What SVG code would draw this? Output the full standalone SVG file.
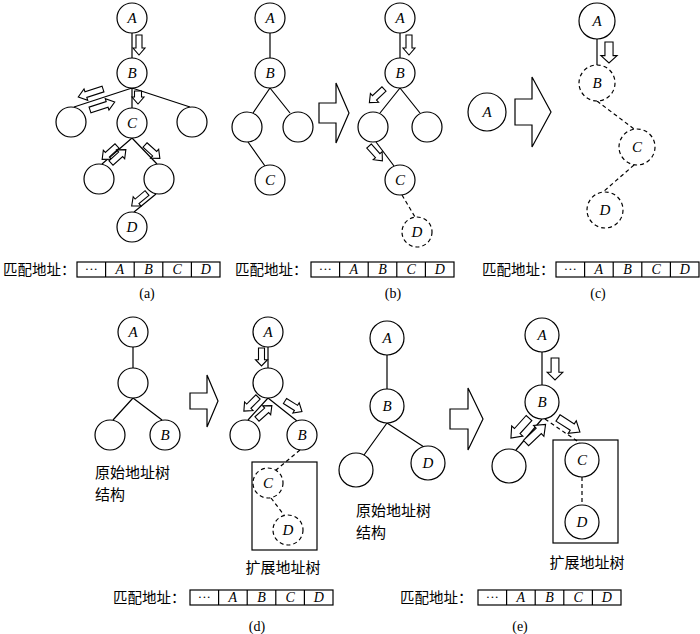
<svg xmlns="http://www.w3.org/2000/svg" xmlns:xlink="http://www.w3.org/1999/xlink" width="700" height="634" viewBox="0 0 700 634">
<style>
.n{fill:#fff;stroke:#000;stroke-width:1.2}
.nd{fill:#fff;stroke:#000;stroke-width:1.2;stroke-dasharray:4,3}
.ln{fill:none;stroke:#000;stroke-width:1.2}
.dl{fill:none;stroke:#000;stroke-width:1.2;stroke-dasharray:4,3}
.lb{font-family:"Liberation Serif",serif;font-style:italic;font-size:15px;text-anchor:middle}
.cl{font-family:"Liberation Serif",serif;font-style:italic;font-size:14px;text-anchor:middle}
.dots{font-family:"Liberation Serif",serif;font-size:13px;text-anchor:middle}
.cap{font-family:"Liberation Serif",serif;font-size:14px;text-anchor:middle}
.cn{font-family:"Noto Sans CJK SC",sans-serif;font-size:14.5px}
.cn16{font-family:"Noto Sans CJK SC",sans-serif;font-size:15px}
.box{fill:#fff;stroke:#000;stroke-width:1.2}
.big{fill:#fff;stroke:#000;stroke-width:1.2}
.arr polygon{fill:#fff;stroke:#000;stroke-width:1.1;vector-effect:non-scaling-stroke}
</style>
<defs>
<g id="ar" class="arr"><polygon points="0,-3 13,-3 13,-6 20,0 13,6 13,3 0,3"/></g>
<g id="arl" class="arr"><polygon points="0,-3 18,-3 18,-6 26,0 18,6 18,3 0,3"/></g>
<g id="ars" class="arr"><polygon points="0,-3.5 6,-3.5 6,-6 13,0 6,6 6,3.5 0,3.5"/></g>
</defs>

<!-- connectors -->
<g id="connectors">
<!-- (a) -->
<path class="ln" d="M132,33 V58 M132,88 L74,107 M132,88 V108 M132,88 L190,107 M132,138 L102,164 M132,138 L157,164 M156,194 L134,212"/>
<!-- (b) left -->
<path class="ln" d="M270,33 V58 M270,88 L253,113 M270,88 L290,113 M248,142 L265,166"/>
<!-- (b) right -->
<path class="ln" d="M400,33 V58 M400,88 L380,113 M400,88 L420,113 M376,142 L394,166"/>
<path class="dl" d="M402,195 L415,217"/>
<!-- (c) -->
<path class="ln" d="M597,39 V65"/>
<path class="dl" d="M597,101 L634,129 M634,165 L603,192"/>
<!-- (d) left -->
<path class="ln" d="M133,347 V368 M133,398 L113,420 M133,398 L162,420"/>
<!-- (d) right -->
<path class="ln" d="M268,347 V368 M268,398 L248,420 M268,398 L297,421"/>
<path class="dl" d="M300,450 L276,470 M271,498 L284,515"/>
<!-- (e) left -->
<path class="ln" d="M387,355 V389 M387,423 L364,455 M387,423 L424,447"/>
<!-- (e) right -->
<path class="ln" d="M542,352 V385 M542,419 L516,450"/>
<path class="dl" d="M545,419 L580,443 M582,477 V505"/>

<!-- flow arrows (a) -->
<use xlink:href="#ar" transform="translate(139,35) rotate(90)"/>
<use xlink:href="#arl" transform="translate(103,89) rotate(162)"/>
<use xlink:href="#arl" transform="translate(90,110) rotate(-18)"/>
<use xlink:href="#ars" transform="translate(138,91) rotate(90)"/>
<use xlink:href="#ar" transform="translate(117,146) rotate(138)"/>
<use xlink:href="#ar" transform="translate(111,163) rotate(-42)"/>
<use xlink:href="#ar" transform="translate(145,145) rotate(42)"/>
<use xlink:href="#ar" transform="translate(147,193) rotate(140)"/>
<!-- (b) -->
<use xlink:href="#ar" transform="translate(409,35) rotate(90)"/>
<use xlink:href="#ar" transform="translate(384,89) rotate(137)"/>
<use xlink:href="#ar" transform="translate(369,146) rotate(48)"/>
<!-- (c) -->
<use xlink:href="#ar" transform="translate(609,42) rotate(90) scale(1.05,1.35)"/>
<!-- (d) -->
<use xlink:href="#ar" transform="translate(261.5,348) rotate(90) scale(0.9,1)"/>
<use xlink:href="#ar" transform="translate(258,397) rotate(135)"/>
<use xlink:href="#ar" transform="translate(257,419) rotate(-42)"/>
<use xlink:href="#ar" transform="translate(285,401) rotate(32)"/>
<!-- (e) -->
<use xlink:href="#ar" transform="translate(555,358) rotate(90) scale(1.1,1.3)"/>
<use xlink:href="#ar" transform="translate(529,418) rotate(132) scale(1.35,1.25)"/>
<use xlink:href="#ar" transform="translate(526,443) rotate(-43.5) scale(1.35,1.25)"/>
<use xlink:href="#ar" transform="translate(558,418) rotate(32.5) scale(1.3,1.25)"/>

<!-- big transition arrows -->
<polygon class="big" points="319,103 336,103 336,83 349,113 336,143 336,123 319,123"/>
<polygon class="big" points="515,99 532,99 532,77 551,112 532,147 532,125 515,125"/>
<polygon class="big" points="190,393 207,393 207,375 218,401 207,427 207,409 190,409"/>
<polygon class="big" points="450,409 468,409 468,388 483,419 468,450 468,429 450,429"/>
</g>

<!-- (a) nodes -->
<g id="a-A"><circle class="n" cx="132" cy="18" r="15"/><text class="lb" x="132" y="23">A</text></g>
<g id="a-B"><circle class="n" cx="132" cy="73" r="15"/><text class="lb" x="132" y="78">B</text></g>
<g id="a-L"><circle class="n" cx="71" cy="122" r="15"/></g>
<g id="a-C"><circle class="n" cx="132" cy="123" r="15"/><text class="lb" x="132" y="128">C</text></g>
<g id="a-R"><circle class="n" cx="192" cy="122" r="15"/></g>
<g id="a-LL"><circle class="n" cx="99" cy="179" r="15"/></g>
<g id="a-LR"><circle class="n" cx="159" cy="179" r="15"/></g>
<g id="a-D"><circle class="n" cx="132" cy="227" r="15"/><text class="lb" x="132" y="232">D</text></g>

<!-- (b) nodes -->
<g id="b1-A"><circle class="n" cx="270" cy="18" r="15"/><text class="lb" x="270" y="23">A</text></g>
<g id="b1-B"><circle class="n" cx="270" cy="73" r="15"/><text class="lb" x="270" y="78">B</text></g>
<g id="b1-L"><circle class="n" cx="247" cy="127" r="15"/></g>
<g id="b1-R"><circle class="n" cx="298" cy="127" r="15"/></g>
<g id="b1-C"><circle class="n" cx="270" cy="180" r="15"/><text class="lb" x="270" y="185">C</text></g>
<g id="b2-A"><circle class="n" cx="400" cy="18" r="15"/><text class="lb" x="400" y="23">A</text></g>
<g id="b2-B"><circle class="n" cx="400" cy="73" r="15"/><text class="lb" x="400" y="78">B</text></g>
<g id="b2-L"><circle class="n" cx="373" cy="127" r="15"/></g>
<g id="b2-R"><circle class="n" cx="427" cy="127" r="15"/></g>
<g id="b2-C"><circle class="n" cx="400" cy="180" r="15"/><text class="lb" x="400" y="185">C</text></g>
<g id="b2-D"><circle class="nd" cx="417" cy="232" r="15"/><text class="lb" x="417" y="237">D</text></g>

<!-- (c) nodes -->
<g id="c1-A"><circle class="n" cx="487" cy="112" r="19"/><text class="lb" x="487" y="117">A</text></g>
<g id="c2-A"><circle class="n" cx="597" cy="21" r="18"/><text class="lb" x="597" y="26">A</text></g>
<g id="c2-B"><circle class="nd" cx="597" cy="83" r="18"/><text class="lb" x="597" y="88">B</text></g>
<g id="c2-C"><circle class="nd" cx="637" cy="147" r="18"/><text class="lb" x="637" y="152">C</text></g>
<g id="c2-D"><circle class="nd" cx="605" cy="210" r="18"/><text class="lb" x="605" y="215">D</text></g>

<!-- (d) nodes -->
<g id="d1-A"><circle class="n" cx="133" cy="332" r="15"/><text class="lb" x="133" y="337">A</text></g>
<g id="d1-M"><circle class="n" cx="133" cy="383" r="15"/></g>
<g id="d1-L"><circle class="n" cx="110" cy="435" r="15"/></g>
<g id="d1-B"><circle class="n" cx="165" cy="435" r="15"/><text class="lb" x="165" y="440">B</text></g>
<g id="d2-A"><circle class="n" cx="268" cy="332" r="15"/><text class="lb" x="268" y="337">A</text></g>
<g id="d2-M"><circle class="n" cx="268" cy="383" r="15"/></g>
<g id="d2-L"><circle class="n" cx="245" cy="435" r="15"/></g>
<g id="d2-B"><circle class="n" cx="302" cy="435" r="15"/><text class="lb" x="302" y="440">B</text></g>
<g id="d2-box"><rect class="ln" x="252" y="462" width="65" height="88"/></g>
<g id="d2-C"><circle class="nd" cx="268" cy="483" r="15"/><text class="lb" x="268" y="488">C</text></g>
<g id="d2-D"><circle class="nd" cx="288" cy="530" r="15"/><text class="lb" x="288" y="535">D</text></g>

<!-- (e) nodes -->
<g id="e1-A"><circle class="n" cx="387" cy="338" r="17"/><text class="lb" x="387" y="343">A</text></g>
<g id="e1-B"><circle class="n" cx="387" cy="406" r="17"/><text class="lb" x="387" y="411">B</text></g>
<g id="e1-L"><circle class="n" cx="356" cy="470" r="17"/></g>
<g id="e1-D"><circle class="n" cx="428" cy="463" r="17"/><text class="lb" x="428" y="468">D</text></g>
<g id="e2-A"><circle class="n" cx="542" cy="335" r="17"/><text class="lb" x="542" y="340">A</text></g>
<g id="e2-B"><circle class="n" cx="542" cy="402" r="17"/><text class="lb" x="542" y="407">B</text></g>
<g id="e2-L"><circle class="n" cx="509" cy="466" r="17"/></g>
<g id="e2-box"><rect class="ln" x="553" y="440" width="65" height="103"/></g>
<g id="e2-C"><circle class="n" cx="582" cy="460" r="17"/><text class="lb" x="582" y="465">C</text></g>
<g id="e2-D"><circle class="n" cx="582" cy="522" r="17"/><text class="lb" x="582" y="527">D</text></g>

<!-- tree captions -->
<text class="cn16" x="95" y="478">原始地址树</text>
<text class="cn16" x="95" y="500">结构</text>
<text class="cn16" x="356" y="516">原始地址树</text>
<text class="cn16" x="356" y="538">结构</text>
<text class="cn16" x="283" y="573" text-anchor="middle">扩展地址树</text>
<text class="cn16" x="587" y="568" text-anchor="middle">扩展地址树</text>

<!-- address bars -->
<g id="bar-a">
<text class="cn" x="3" y="275">匹配地址：</text>
<rect class="box" x="77" y="262" width="143" height="15"/>
<path class="ln" d="M105.6,262 V277 M134.2,262 V277 M162.8,262 V277 M191.4,262 V277"/>
<text class="dots" x="91.3" y="273">···</text><text class="cl" x="119.9" y="274">A</text><text class="cl" x="148.5" y="274">B</text><text class="cl" x="177.1" y="274">C</text><text class="cl" x="205.7" y="274">D</text>
</g>
<g id="bar-b">
<text class="cn" x="235" y="275">匹配地址：</text>
<rect class="box" x="311" y="262" width="143" height="15"/>
<path class="ln" d="M339.6,262 V277 M368.2,262 V277 M396.8,262 V277 M425.4,262 V277"/>
<text class="dots" x="325.3" y="273">···</text><text class="cl" x="353.9" y="274">A</text><text class="cl" x="382.5" y="274">B</text><text class="cl" x="411.1" y="274">C</text><text class="cl" x="439.7" y="274">D</text>
</g>
<g id="bar-c">
<text class="cn" x="482" y="275">匹配地址：</text>
<rect class="box" x="556" y="262" width="143" height="15"/>
<path class="ln" d="M584.6,262 V277 M613.2,262 V277 M641.8,262 V277 M670.4,262 V277"/>
<text class="dots" x="570.3" y="273">···</text><text class="cl" x="598.9" y="274">A</text><text class="cl" x="627.5" y="274">B</text><text class="cl" x="656.1" y="274">C</text><text class="cl" x="684.7" y="274">D</text>
</g>
<g id="bar-d">
<text class="cn" x="113" y="603">匹配地址：</text>
<rect class="box" x="190" y="590" width="143" height="15"/>
<path class="ln" d="M218.6,590 V605 M247.2,590 V605 M275.8,590 V605 M304.4,590 V605"/>
<text class="dots" x="204.3" y="601">···</text><text class="cl" x="232.9" y="602">A</text><text class="cl" x="261.5" y="602">B</text><text class="cl" x="290.1" y="602">C</text><text class="cl" x="318.7" y="602">D</text>
</g>
<g id="bar-e">
<text class="cn" x="400" y="603">匹配地址：</text>
<rect class="box" x="478" y="590" width="143" height="15"/>
<path class="ln" d="M506.6,590 V605 M535.2,590 V605 M563.8,590 V605 M592.4,590 V605"/>
<text class="dots" x="492.3" y="601">···</text><text class="cl" x="520.9" y="602">A</text><text class="cl" x="549.5" y="602">B</text><text class="cl" x="578.1" y="602">C</text><text class="cl" x="606.7" y="602">D</text>
</g>

<!-- panel captions -->
<text class="cap" x="147" y="298">(a)</text>
<text class="cap" x="393" y="298">(b)</text>
<text class="cap" x="598" y="298">(c)</text>
<text class="cap" x="257" y="631">(d)</text>
<text class="cap" x="520" y="631">(e)</text>
</svg>
